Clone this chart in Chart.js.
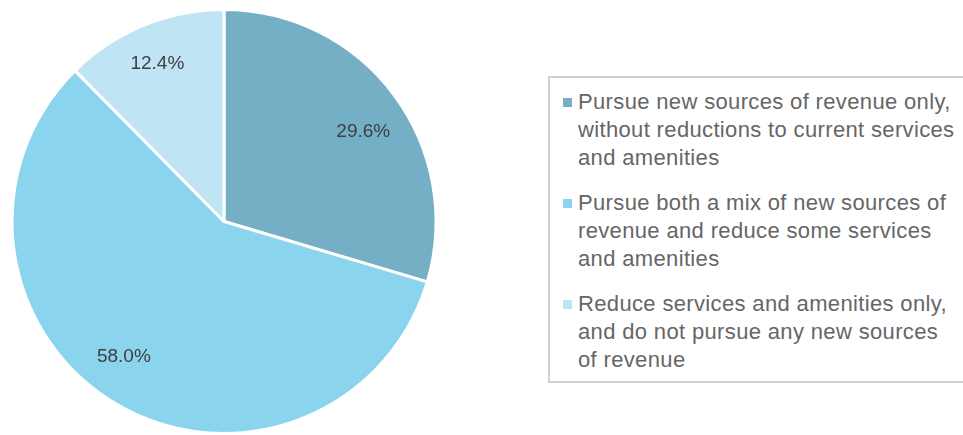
<!DOCTYPE html>
<html>
<head>
<meta charset="utf-8">
<script src="https://cdn.jsdelivr.net/npm/chart.js@4"></script>
<style>
  html, body { margin: 0; padding: 0; background: #fff; }
  #wrap { position: relative; width: 963px; height: 435px; overflow: hidden; }
  #pieBox { position: absolute; left: 0; top: 0; width: 448px; height: 435px; }
  #legend { position: absolute; left: 548px; top: 76px; width: 440px; height: 307px;
    border: 2px solid #d2d2d2; box-sizing: border-box;
    font-family: "Liberation Sans", Arial, sans-serif; font-size: 22px; letter-spacing: 0.35px; color: #666666; }
  .item { position: absolute; left: 28px; line-height: 28px; white-space: nowrap; }
  .sw { position: absolute; left: -15px; top: 10px; width: 9px; height: 9px; }
</style>
</head>
<body>
<div id="wrap">
  <div id="pieBox"><canvas id="c"></canvas></div>
  <div id="legend"></div>
</div>
<script>
const categories = [
  ["Pursue new sources of revenue only,", "without reductions to current services", "and amenities"],
  ["Pursue both a mix of new sources of", "revenue and reduce some services", "and amenities"],
  ["Reduce services and amenities only,", "and do not pursue any new sources", "of revenue"]
];
const values = [29.6, 58.0, 12.4];
const colors = ["#74afc6", "#8ad4ed", "#bfe4f3"];

const legend = document.getElementById('legend');
const tops = [10, 111, 212];
categories.forEach((lines, i) => {
  const d = document.createElement('div');
  d.className = 'item';
  d.style.top = tops[i] + 'px';
  d.innerHTML = '<span class="sw" style="background:' + colors[i] + '"></span>' +
    lines.map(l => '<div>' + l + '</div>').join('');
  legend.appendChild(d);
});

const labelNudge = [[5, 10], [-14, -8], [-3, -3]];
const labelPlugin = {
  id: 'sliceLabels',
  afterDatasetsDraw(chart) {
    const ctx = chart.ctx;
    const meta = chart.getDatasetMeta(0);
    ctx.save();
    ctx.font = '19px "Liberation Sans", Arial, sans-serif';
    ctx.fillStyle = '#404040';
    ctx.textAlign = 'center';
    ctx.textBaseline = 'middle';
    meta.data.forEach((arc, i) => {
      const mid = (arc.startAngle + arc.endAngle) / 2;
      const r = arc.outerRadius * 0.79;
      ctx.fillText(values[i].toFixed(1) + '%',
        arc.x + Math.cos(mid) * r + labelNudge[i][0],
        arc.y + Math.sin(mid) * r + labelNudge[i][1]);
    });
    ctx.restore();
  }
};

new Chart(document.getElementById('c'), {
  type: 'pie',
  data: {
    labels: categories,
    datasets: [{
      data: values,
      backgroundColor: colors,
      borderColor: '#ffffff',
      borderWidth: 3
    }]
  },
  options: {
    responsive: true,
    maintainAspectRatio: false,
    animation: false,
    layout: { padding: { left: 10, right: 10, top: 8, bottom: 0 } },
    plugins: { legend: { display: false }, tooltip: { enabled: false } }
  },
  plugins: [labelPlugin]
});
</script>
</body>
</html>
